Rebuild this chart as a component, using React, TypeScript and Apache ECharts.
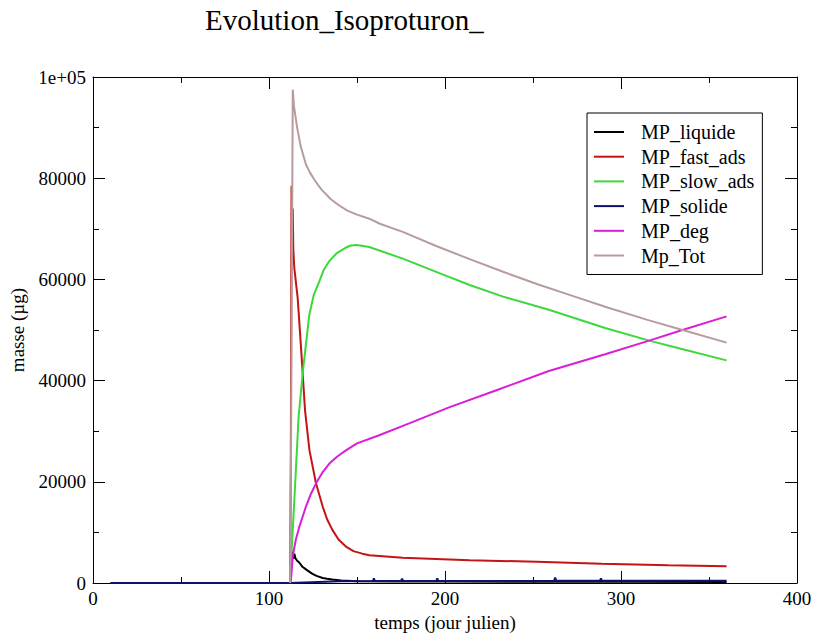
import React, { useEffect, useRef } from "react";
import * as echarts from "echarts";

const liquideDays = [10, 112, 112.6, 113.2, 113.8, 114.4, 115, 116, 117.3, 119, 121, 123, 124.7, 127, 130.5, 133, 136, 141, 150, 170, 200, 250, 300, 360];
const liquideValues = [0, 0, 3500, 6200, 4800, 5800, 4900, 4400, 4000, 3200, 2700, 2200, 1800, 1400, 1000, 850, 700, 500, 350, 300, 280, 250, 230, 220];

const fastDays = [112, 112.4, 112.8, 113.1, 113.5, 113.8, 114.4, 116.3, 118.2, 120.5, 123, 126.7, 130.5, 133, 136, 139.5, 143.7, 148, 153, 157, 176, 214, 252, 289, 327, 360];
const fastValues = [0, 25000, 78500, 70000, 74000, 66000, 62200, 56300, 46500, 34000, 26200, 19700, 15100, 12600, 10500, 8600, 7200, 6300, 5800, 5500, 5000, 4500, 4200, 3800, 3500, 3300];

const slowDays = [112, 112.6, 114.4, 116.8, 119.3, 122.9, 125.5, 128.6, 131, 134, 138.5, 143.7, 146.5, 150, 157, 176, 195, 214, 233, 259, 291, 316, 334, 360];
const slowValues = [0, 4700, 16400, 32700, 42000, 53000, 57000, 59600, 61800, 63500, 65200, 66300, 66700, 66800, 66400, 64100, 61500, 58900, 56600, 54000, 50400, 47900, 46300, 44000];

const solideDays = [10, 112, 140, 159, 159.6, 160.2, 175, 175.6, 176.2, 195, 195.6, 196.2, 262, 262.6, 263.2, 288, 288.6, 289.2, 360];
const solideValues = [0, 0, 350, 380, 900, 380, 400, 850, 400, 400, 900, 400, 420, 1100, 420, 420, 900, 420, 420];

const degDays = [112, 112.5, 113.5, 115.2, 117.3, 121, 123.8, 126.7, 130.3, 134.3, 138.8, 143.7, 150, 162.6, 180, 202.3, 230, 259, 291, 316, 334, 360];
const degValues = [0, 700, 5300, 8500, 11200, 15100, 17600, 19700, 21800, 23600, 25000, 26200, 27600, 29200, 31600, 34700, 38200, 41900, 45200, 47900, 49900, 52700];

const totDays = [112, 112.5, 113.5, 114.2, 116, 118, 121, 123.3, 125.6, 127.8, 130, 132.5, 135, 139.5, 144.5, 150, 157, 163, 176, 195, 214, 233, 253, 272, 291, 315, 334, 360];
const totValues = [0, 25000, 97500, 94200, 90000, 86300, 82700, 81100, 79800, 78700, 77700, 76800, 75900, 74700, 73600, 72800, 72000, 71000, 69400, 66600, 64000, 61500, 59000, 56800, 54600, 52000, 50100, 47500];

const seriesNames = ["MP_liquide", "MP_fast_ads", "MP_slow_ads", "MP_solide", "MP_deg", "Mp_Tot"];
const seriesColors = ["#000000", "#c41414", "#3cd83c", "#10106e", "#d81ed8", "#b89c9c"];

const xTicks = { min: 0, max: 400, interval: 100 };
const yTicks = { min: 0, max: 100000, interval: 20000 };

const FONT = "Liberation Serif";

function pairs(days: number[], vals: number[]) {
  return days.map((d, i) => [d, vals[i]]);
}

export default function App() {
  const ref = useRef<HTMLDivElement>(null);
  useEffect(() => {
    if (!ref.current) return;
    const chart = echarts.init(ref.current, undefined, { renderer: "svg" });
    const dataSets = [
      pairs(liquideDays, liquideValues),
      pairs(fastDays, fastValues),
      pairs(slowDays, slowValues),
      pairs(solideDays, solideValues),
      pairs(degDays, degValues),
      pairs(totDays, totValues),
    ];
    const axisCommon = {
      axisLine: { show: true, onZero: false, lineStyle: { color: "#000", width: 1 } },
      axisTick: { show: true, inside: true, length: 12, lineStyle: { color: "#000", width: 1 } },
      minorTick: { show: true, splitNumber: 2, length: 6, lineStyle: { color: "#000", width: 1 } },
      splitLine: { show: false },
      minorSplitLine: { show: false },
    };
    chart.setOption({
      animation: false,
      backgroundColor: "#ffffff",
      title: {
        text: "Evolution_Isoproturon_",
        left: 200,
        top: 0,
        padding: 5,
        textStyle: { fontFamily: FONT, fontSize: 29, fontWeight: "normal", color: "#000" },
      },
      grid: { left: 93, right: 22, top: 77, bottom: 50, containLabel: false },
      legend: {
        orient: "vertical",
        left: 587,
        top: 113,
        padding: [9, 8, 9, 7],
        itemGap: 4.7,
        itemWidth: 30,
        itemHeight: 2,
        icon: "rect",
        borderColor: "#000",
        borderWidth: 1,
        backgroundColor: "#fff",
        textStyle: { fontFamily: FONT, fontSize: 20, lineHeight: 20, color: "#000", padding: [0, 0, 0, 12] },
        data: seriesNames,
      },
      xAxis: [
        {
          type: "value",
          ...xTicks,
          position: "bottom",
          ...axisCommon,
          name: "temps (jour julien)",
          nameLocation: "middle",
          nameGap: 30,
          nameTextStyle: { fontFamily: FONT, fontSize: 19, color: "#000" },
          axisLabel: { fontFamily: FONT, fontSize: 19, color: "#000", margin: 6 },
        },
        {
          type: "value",
          ...xTicks,
          position: "top",
          ...axisCommon,
          axisLabel: { show: false },
        },
      ],
      yAxis: [
        {
          type: "value",
          ...yTicks,
          position: "left",
          ...axisCommon,
          name: "masse (µg)",
          nameLocation: "middle",
          nameGap: 62,
          nameTextStyle: { fontFamily: FONT, fontSize: 19, color: "#000" },
          axisLabel: {
            fontFamily: FONT,
            fontSize: 19,
            color: "#000",
            margin: 7,
            formatter: (v: number) => (v === 100000 ? "1e+05" : String(v)),
          },
        },
        {
          type: "value",
          ...yTicks,
          position: "right",
          ...axisCommon,
          axisLabel: { show: false },
        },
      ],
      series: dataSets.map((d, i) => ({
        name: seriesNames[i],
        type: "line",
        xAxisIndex: 0,
        yAxisIndex: 0,
        data: d,
        symbol: "none",
        showSymbol: false,
        color: seriesColors[i],
        lineStyle: { color: seriesColors[i], width: 2 },
        itemStyle: { color: seriesColors[i] },
        clip: true,
      })),
    });
    return () => chart.dispose();
  }, []);
  return (
    <div
      ref={ref}
      style={{ position: "absolute", left: 0, top: 0, width: 819, height: 637, background: "#fff" }}
    />
  );
}
